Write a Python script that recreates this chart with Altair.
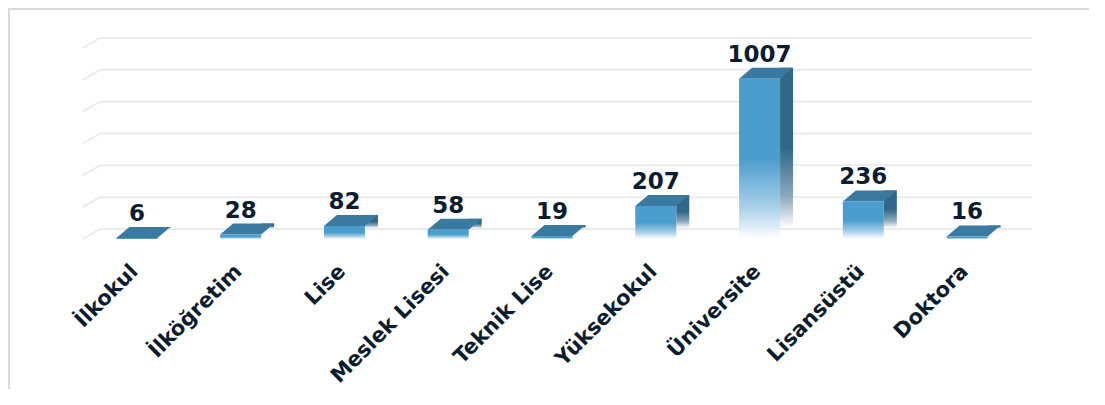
import altair as alt
import pandas as pd

categories = ["İlkokul", "İlköğretim", "Lise", "Meslek Lisesi", "Teknik Lise",
              "Yüksekokul", "Üniversite", "Lisansüstü", "Doktora"]
values = [6, 28, 82, 58, 19, 207, 1007, 236, 16]
grid_ticks = [0, 200, 400, 600, 800, 1000, 1200]

df = pd.DataFrame({"cat": categories, "value": values})
grid = pd.DataFrame({"value": grid_ticks})

W, H = 934, 191
DY = -11
TEXT = "#0b1d2f"

yscale = alt.Scale(domain=[0, 1200], nice=False, zero=True)
xenc = alt.X("cat:N", sort=categories,
             scale=alt.Scale(paddingInner=0.605, paddingOuter=0.3025),
             axis=alt.Axis(title=None, ticks=False, tickSize=0, domain=False, grid=False,
                           labelAngle=-45, labelAlign="right", labelBaseline="middle",
                           labelPadding=29, labelOffset=-2, labelFont="DejaVu Sans",
                           labelFontWeight="bold", labelFontSize=21, labelColor=TEXT,
                           labelOverlap=False, labelLimit=300))
yenc = alt.Y("value:Q", scale=yscale, axis=None)

front_grad = alt.Gradient(gradient="linear", x1=0, y1=0, x2=0, y2=1, stops=[
    alt.GradientStop(color="#4a9dcd", offset=0),
    alt.GradientStop(color="#4a9dcd", offset=0.5),
    alt.GradientStop(color="#a9d0e8", offset=0.8),
    alt.GradientStop(color="#ffffff", offset=1)])
side_grad = alt.Gradient(gradient="linear", x1=0, y1=0, x2=0, y2=1, stops=[
    alt.GradientStop(color="#30678a", offset=0),
    alt.GradientStop(color="#30678a", offset=0.5),
    alt.GradientStop(color="#8aa8bc", offset=0.8),
    alt.GradientStop(color="#ffffff", offset=1)])

# parallelogram top face (unit path, scaled by sqrt(size)/2)
TOP_SHAPE = "M-0.7593,0 L0.7593,0 L1.2407,-0.4074 L-0.2778,-0.4074 Z"

gridlines = alt.Chart(grid).mark_rule(color="#ebebeb", strokeWidth=2, yOffset=-10).encode(
    y=yenc, x=alt.value(15), x2=alt.value(947))

diag = alt.Chart(grid).mark_rule(color="#ebebeb", strokeWidth=2, y2Offset=-10).encode(
    y=yenc, y2="value:Q", x=alt.value(-2), x2=alt.value(15))

side = alt.Chart(df).mark_bar(color=side_grad, width=13, xOffset=27, yOffset=DY, y2Offset=DY).encode(
    x=xenc, y=yenc)

top = alt.Chart(df).mark_point(shape=TOP_SHAPE, size=2916, filled=True, opacity=1,
                               color="#3a79a0", strokeWidth=0).encode(x=xenc, y=yenc)

front = alt.Chart(df).mark_bar(color=front_grad).encode(x=xenc, y=yenc)

labels = alt.Chart(df).mark_text(font="DejaVu Sans", fontWeight="bold", fontSize=23,
                                 color=TEXT, baseline="alphabetic", dy=-17).encode(
    x=xenc, y=yenc, text="value:Q")

frame_left = alt.Chart(grid).mark_rule(color="#d9d9d9", strokeWidth=1.5).encode(
    x=alt.value(-76), y=alt.value(-40), y2=alt.value(H + 160))
frame_top = alt.Chart(grid).mark_rule(color="#d9d9d9", strokeWidth=1.5).encode(
    x=alt.value(-76), x2=alt.value(W + 100), y=alt.value(-39))

chart = alt.layer(frame_left, frame_top, gridlines, diag, side, top, front, labels).properties(
    width=W, height=H,
    padding={"left": 77, "top": 40, "right": 70, "bottom": 150},
    autosize=alt.AutoSizeParams(type="none"),
    background="white",
).configure_view(stroke=None)

chart.save("out.html", embed_options={"renderer": "svg", "actions": False})
